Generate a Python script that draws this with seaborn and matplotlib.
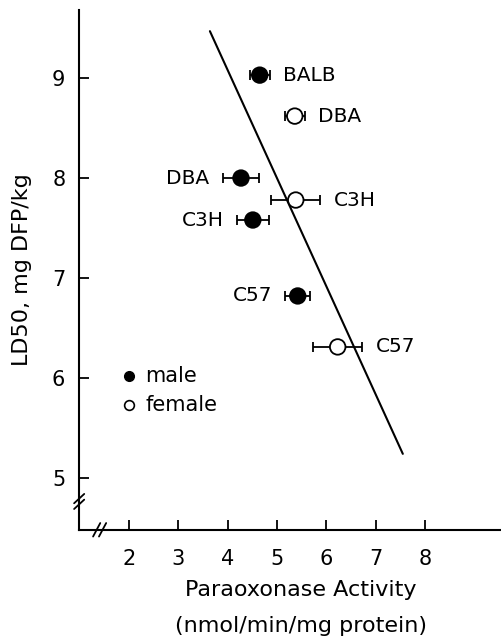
import matplotlib
matplotlib.use("Agg")
import matplotlib.pyplot as plt
import seaborn as sns
import pandas as pd

# values
strains = ["BALB", "DBA", "DBA", "C3H", "C3H", "C57", "C57"]
sex = ["male", "female", "male", "female", "male", "male", "female"]
activity = [4.65, 5.36, 4.27, 5.38, 4.51, 5.42, 6.23]
activity_err = [0.2, 0.2, 0.37, 0.5, 0.32, 0.25, 0.5]
ld50 = [9.03, 8.62, 8.0, 7.78, 7.58, 6.82, 6.31]
label_side = ["right", "right", "left", "right", "left", "left", "right"]

fit_x = [3.64, 7.55]
fit_y = [9.47, 5.24]

xticks = [2, 3, 4, 5, 6, 7, 8]
yticks = [5, 6, 7, 8, 9]

df = pd.DataFrame({"strain": strains, "sex": sex, "activity": activity,
                   "err": activity_err, "ld50": ld50, "side": label_side})

sns.set_style("ticks")
plt.rcParams["font.family"] = ["DejaVu Sans"]
for k in ["text.color", "axes.labelcolor", "xtick.color", "ytick.color", "axes.edgecolor"]:
    plt.rcParams[k] = "black"

fig = plt.figure(figsize=(5.01, 6.36), dpi=100)
ax = fig.add_axes([0.158, 0.167, 0.842, 0.817])

sns.lineplot(x=fit_x, y=fit_y, color="black", linewidth=1.5, ax=ax, zorder=1)

for _, r in df.iterrows():
    ax.errorbar(r["activity"], r["ld50"], xerr=r["err"], fmt="none",
                ecolor="black", elinewidth=1.3, capsize=3.5, capthick=1.3, zorder=2)

sns.scatterplot(data=df, x="activity", y="ld50", hue="sex",
                palette={"male": "black", "female": "white"},
                edgecolor="black", linewidth=1.3, s=125, legend=False,
                ax=ax, zorder=3)

for _, r in df.iterrows():
    off = r["err"] + 0.27
    if r["side"] == "right":
        ax.text(r["activity"] + off, r["ld50"], r["strain"], fontsize=14.5,
                ha="left", va="center")
    else:
        ax.text(r["activity"] - off, r["ld50"], r["strain"], fontsize=14.5,
                ha="right", va="center")

# legend as text
ax.plot([2.0], [6.02], "o", color="black", markersize=7)
ax.text(2.33, 6.02, "male", fontsize=15, va="center")
ax.plot([2.0], [5.73], "o", mfc="white", mec="black", markersize=7, mew=1.2)
ax.text(2.33, 5.73, "female", fontsize=15, va="center")

ax.set_xlim(0.99, 9.54)
ax.set_ylim(4.48, 9.68)
ax.set_xticks(xticks)
ax.set_yticks(yticks)
ax.tick_params(direction="in", length=7, width=1.3, labelsize=15)
ax.tick_params(axis="y", pad=10)
ax.tick_params(axis="x", pad=14)
sns.despine(ax=ax)
for s in ["left", "bottom"]:
    ax.spines[s].set_linewidth(1.5)

# axis break marks
kw = dict(color="black", linewidth=1.3, clip_on=False)
for dx in (0, 0.014):
    ax.plot([0.033 + dx, 0.05 + dx], [-0.013, 0.013], transform=ax.transAxes, **kw)
for dy in (0, 0.011):
    ax.plot([-0.012, 0.012], [0.04 + dy, 0.058 + dy], transform=ax.transAxes, **kw)

ax.set_ylabel("LD50, mg DFP/kg", fontsize=16, labelpad=14)
ax.set_xlabel("")
fig.text(0.6, 1 - 590 / 636, "Paraoxonase Activity", fontsize=16,
         ha="center", va="center")
fig.text(0.6, 1 - 626 / 636, "(nmol/min/mg protein)", fontsize=16,
         ha="center", va="center")

fig.savefig("out.png", dpi=100)
